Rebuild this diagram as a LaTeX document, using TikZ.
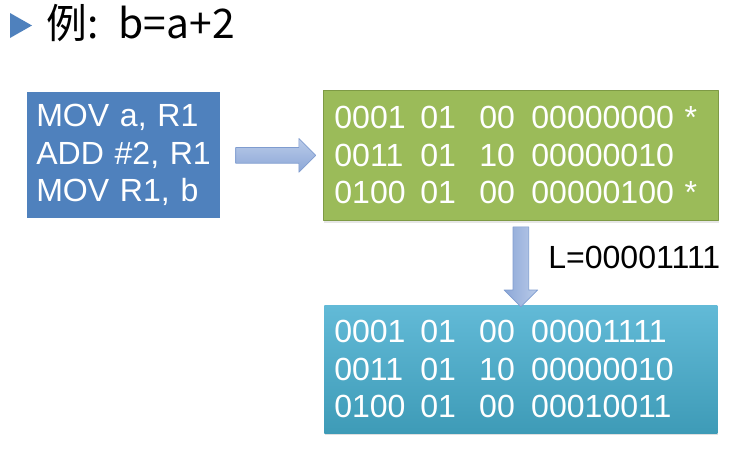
\documentclass[tikz,border=0pt]{standalone}
\usepackage{fontspec}
\setmainfont{Liberation Sans}
\newfontfamily\cjk{Noto Sans CJK SC}
\usepackage{xcolor}
\usepackage{tikz}
\usetikzlibrary{shapes.arrows,positioning,calc,shadows}

\definecolor{asmblue}{HTML}{4F81BD}
\definecolor{bingreen}{HTML}{9BBB59}
\definecolor{bingreenline}{HTML}{7E9A45}
\definecolor{aquatop}{HTML}{62BAD7}
\definecolor{aquabot}{HTML}{3E9BB7}
\definecolor{arrowtop}{HTML}{BACBE9}
\definecolor{arrowbot}{HTML}{8CA7D7}
\definecolor{arrowline}{HTML}{7F9CCF}

\newcommand{\bitrow}[4]{\makebox[2.15cm][l]{#1}\makebox[1.475cm][l]{#2}\makebox[1.3cm][l]{#3}#4}

\tikzset{
  codebox/.style={rectangle,anchor=north west,align=left,text=white,
    font=\fontsize{22.8}{26.7}\selectfont,inner ysep=0pt},
  blockarrow/.style={single arrow,draw=arrowline,line width=0.5pt,
    inner sep=0.1875cm,single arrow head extend=0.225cm,
    minimum height=2cm}
}

\begin{document}
\begin{tikzpicture}[line join=round]
      \useasboundingbox (0,0) rectangle (18.3,-11.225);
      % title
      \fill[asmblue] (0.25,-0.325)--(0.25,-0.95)--(0.8,-0.6375)--cycle;
      \node[anchor=base west,inner sep=0pt,font=\cjk\fontsize{29}{34}\selectfont] (title)
        at (1.15,-0.95) {例:\enspace b=a+2};
      % boxes
      \node[codebox,fill=asmblue,inner xsep=0.225cm,text width=4.375cm,minimum height=3.15cm] (asm)
        at (0.675,-2.3) {MOV a, R1\\ADD \#2, R1\\MOV R1, b};
      \node[codebox,fill=bingreen,draw=bingreenline,line width=0.6pt,
        drop shadow={opacity=0.2,shadow xshift=0.5pt,shadow yshift=-1.5pt},
        inner xsep=0.275cm,text width=9.325cm,minimum height=3.25cm] (bin)
        at (8.075,-2.25) {\bitrow{0001}{01}{00}{00000000 *}\\
        \bitrow{0011}{01}{10}{00000010}\\
        \bitrow{0100}{01}{00}{00000100 *}};
      \node[codebox,top color=aquatop,bottom color=aquabot,
        drop shadow={opacity=0.25,shadow xshift=0.5pt,shadow yshift=-1.5pt},
        inner xsep=0.25cm,text width=9.325cm,minimum height=3.2cm] (patched)
        at (8.1,-7.625) {\bitrow{0001}{01}{00}{00001111}\\
        \bitrow{0011}{01}{10}{00000010}\\
        \bitrow{0100}{01}{00}{00010011}};
      % arrows
      \node[blockarrow,top color=arrowtop,bottom color=arrowbot] (toright)
        at ($(asm.east)!0.5!(bin.west)$) {};
      \node[blockarrow,shape border rotate=270,left color=arrowbot,right color=arrowtop] (todown)
        at ($(bin.south)!0.5!(patched.north)$) {};
      \node[anchor=base west,inner sep=0pt,font=\fontsize{22.8}{26.7}\selectfont] (lval)
        at (13.7,-6.7) {L=00001111};
    \end{tikzpicture}
\end{document}
